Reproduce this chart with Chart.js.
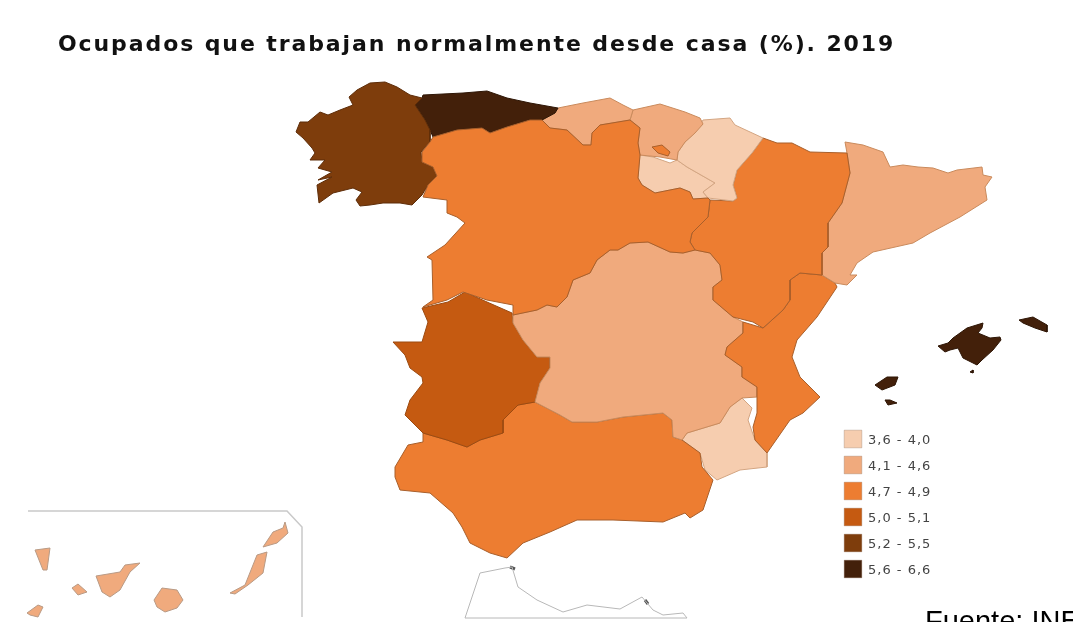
<!DOCTYPE html>
<html>
<head>
<meta charset="utf-8">
<title>Ocupados que trabajan normalmente desde casa</title>
<script src="https://cdn.jsdelivr.net/npm/chart.js@4/dist/chart.umd.min.js"></script>
<style>
  html, body { margin: 0; padding: 0; background: #fff; overflow: hidden; }
  canvas { display: block; filter: blur(0.5px); }
</style>
</head>
<body>
<canvas id="map" width="1073" height="622"></canvas>
<script>
// Texts
const chartTitle = "Ocupados que trabajan normalmente desde casa (%). 2019";
const sourceNote = "Fuente: INE";

// Legend classes
const classRanges = ["3,6 - 4,0", "4,1 - 4,6", "4,7 - 4,9", "5,0 - 5,1", "5,2 - 5,5", "5,6 - 6,6"];
const classColors = ["#f6cdaf", "#f0aa7d", "#ed7d31", "#c55a11", "#7e3d0c", "#43200a"];
const legendX = [853, 853, 853, 853, 853, 853];
const legendY = [439, 465, 491, 517, 543, 569];

// Region outlines
const castillaLeon = [[422,152],[430,142],[433,137],[457,130],[482,128],[490,133],[507,127],[530,120],[542,120],[550,128],[567,130],[583,145],[591,145],[592,133],[600,125],[630,120],[640,128],[638,143],[640,155],[638,178],[642,185],[655,193],[670,190],[680,188],[690,192],[693,199],[708,198],[710,200],[708,217],[692,233],[690,242],[695,250],[683,253],[670,252],[648,242],[630,243],[618,250],[610,250],[597,260],[590,273],[573,280],[567,297],[557,307],[547,305],[537,310],[513,315],[513,305],[487,300],[463,292],[447,300],[423,307],[433,300],[432,260],[427,257],[445,245],[465,223],[457,217],[447,213],[447,200],[423,197],[428,185],[437,176],[433,167],[422,162]];
const galicia = [[296,132],[300,122],[308,122],[320,112],[328,115],[340,110],[353,105],[349,97],[357,90],[370,83],[385,82],[397,87],[410,95],[422,98],[415,105],[425,120],[430,130],[430,142],[421,152],[422,162],[433,167],[437,176],[428,185],[422,195],[412,205],[400,203],[383,203],[370,205],[360,206],[356,200],[362,192],[353,188],[333,193],[319,203],[317,185],[332,177],[318,180],[332,172],[318,168],[325,160],[310,160],[315,153],[312,148],[303,138]];
const asturias = [[422,98],[423,95],[463,93],[487,91],[507,98],[530,103],[558,108],[555,113],[542,120],[530,120],[507,127],[490,133],[482,128],[457,130],[433,137],[430,130],[425,120],[415,105]];
const cantabria = [[558,108],[583,103],[610,98],[623,105],[633,110],[630,120],[600,125],[592,133],[591,145],[583,145],[567,130],[550,128],[542,120],[555,113]];
const paisVasco = [[633,110],[660,104],[685,112],[700,118],[703,124],[695,133],[685,142],[678,152],[677,160],[660,157],[640,155],[638,143],[640,128],[630,120]];
const trevino = [[652,147],[662,145],[670,152],[668,156],[658,153]];
const navarra = [[703,120],[730,118],[735,125],[763,138],[752,153],[737,170],[733,185],[737,198],[733,201],[708,198],[703,192],[715,183],[687,167],[677,160],[678,152],[685,142],[695,133]];
const rioja = [[640,155],[653,157],[670,163],[677,160],[687,167],[715,183],[703,192],[708,198],[693,199],[690,192],[680,188],[670,190],[655,193],[642,185],[638,178]];
const aragon = [[763,138],[777,143],[792,143],[810,152],[847,153],[850,173],[842,203],[828,223],[828,247],[822,253],[822,275],[800,273],[790,280],[790,300],[783,310],[763,328],[753,322],[733,317],[713,300],[713,287],[722,280],[720,265],[710,253],[695,250],[690,242],[692,233],[708,217],[710,200],[733,201],[737,198],[733,185],[737,170],[752,153]];
const cataluna = [[845,142],[863,145],[883,152],[890,167],[903,165],[918,167],[933,168],[948,173],[957,170],[982,167],[983,175],[992,177],[985,187],[987,200],[960,217],[930,233],[913,243],[873,252],[857,263],[850,275],[857,275],[847,285],[835,283],[822,275],[822,253],[828,247],[828,223],[842,203],[850,173],[847,153]];
const valencia = [[837,287],[817,317],[797,340],[792,357],[800,377],[820,397],[803,413],[790,420],[767,453],[755,440],[753,427],[757,413],[757,387],[742,377],[742,367],[725,355],[727,347],[743,333],[743,322],[763,328],[783,310],[790,300],[790,280],[800,273],[822,275],[835,283]];
const castillaMancha = [[630,243],[648,242],[670,252],[683,253],[695,250],[710,253],[720,265],[722,280],[713,287],[713,300],[733,317],[743,322],[743,333],[727,347],[725,355],[742,367],[742,377],[757,387],[757,397],[742,398],[730,407],[720,423],[687,433],[682,440],[673,437],[672,420],[663,413],[623,417],[597,422],[572,422],[560,415],[535,402],[540,383],[550,368],[550,357],[537,357],[523,340],[513,323],[513,315],[537,310],[547,305],[557,307],[567,297],[573,280],[590,273],[597,260],[610,250],[618,250]];
const madrid = [[610,250],[618,257],[620,267],[630,287],[638,315],[613,318],[600,327],[597,325],[607,315],[597,308],[570,305],[557,307],[567,297],[573,280],[590,273],[597,260]];
const extremadura = [[422,308],[448,302],[465,292],[487,302],[512,313],[513,323],[523,340],[537,357],[550,357],[550,368],[540,383],[535,402],[518,405],[503,420],[503,433],[480,440],[467,447],[447,440],[423,433],[405,415],[410,400],[423,383],[422,377],[410,368],[405,355],[393,342],[422,342],[428,322]];
const andalucia = [[395,467],[408,445],[423,442],[423,433],[447,440],[467,447],[480,440],[503,433],[503,420],[518,405],[535,402],[560,415],[572,422],[597,422],[623,417],[663,413],[672,420],[673,437],[682,440],[700,453],[702,467],[713,480],[703,510],[690,518],[685,513],[663,522],[613,520],[577,520],[550,532],[523,543],[507,558],[490,553],[470,543],[462,527],[453,513],[430,493],[400,490],[395,477]];
const murcia = [[742,398],[752,408],[748,420],[755,440],[767,453],[767,467],[740,470],[717,480],[705,470],[700,453],[682,440],[687,433],[720,423],[730,407]];
const mallorca = [[938,346],[948,343],[953,338],[967,328],[983,323],[982,328],[978,333],[990,338],[1000,337],[1001,340],[993,350],[982,360],[977,365],[963,358],[958,348],[950,350],[945,352]];
const menorca = [[1019,320],[1033,317],[1047,325],[1047,332],[1035,328],[1023,323]];
const ibiza = [[875,385],[887,377],[898,377],[895,385],[882,390]];
const formentera = [[885,400],[890,400],[897,403],[888,405]];
const cabrera = [[970,372],[973,370],[973,373]];
const laPalma = [[35,550],[50,548],[47,570],[43,570]];
const hierro = [[27,613],[38,605],[43,607],[38,617],[30,615]];
const gomera = [[72,588],[78,584],[87,592],[78,595]];
const tenerife = [[96,576],[120,572],[125,565],[140,563],[130,572],[120,590],[110,597],[102,592]];
const granCanaria = [[154,600],[162,588],[177,590],[183,600],[177,608],[165,612],[157,607]];
const fuerteventura = [[230,593],[245,585],[257,555],[267,552],[263,573],[248,585],[235,594]];
const lanzarote = [[263,547],[273,532],[283,528],[285,522],[288,533],[277,543]];

// Non data lines
const canaryFrame = [[28,511],[287,511],[302,527],[302,617]];
const africaCoast = [[465,618],[480,573],[505,568],[512,567],[518,587],[537,600],[563,612],[587,605],[620,609],[642,597],[653,610],[663,615],[683,613],[687,618],[465,618]];
const ceuta = [[510,567],[515,569]];
const melilla = [[645,600],[648,604]];

// Which class each region belongs to. Chart.js paints the first dataset last,
// so the Treviño enclave has to come first to stay on top
const regionShapes = [trevino, castillaLeon, galicia, asturias, cantabria, paisVasco, navarra, rioja, aragon, cataluna, valencia, castillaMancha, madrid, extremadura, andalucia, murcia, mallorca, menorca, ibiza, formentera, cabrera, laPalma, hierro, gomera, tenerife, granCanaria, fuerteventura, lanzarote];
const regionClasses = [2, 2, 4, 5, 1, 1, 0, 0, 2, 1, 2, 1, 3, 3, 2, 0, 5, 5, 5, 5, 5, 1, 1, 1, 1, 1, 1, 1];
const regionEdges = ["#a85f2b", "#a85f2b", "#5d2c08", "#2d1505", "#c98a5c", "#c98a5c", "#d3a582", "#d3a582", "#a85f2b", "#c98a5c", "#a85f2b", "#c98a5c", "#9c4a10", "#9c4a10", "#a85f2b", "#d3a582", "#2d1505", "#2d1505", "#2d1505", "#2d1505", "#2d1505", "#b89a85", "#b89a85", "#b89a85", "#b89a85", "#b89a85", "#b89a85", "#b89a85"];

function toPoints(shape) {
  return shape.map((p) => ({ x: p[0], y: p[1] }));
}

// Build datasets: one closed filled line per region
const datasets = regionShapes.map((shape, i) => ({
  data: toPoints(shape),
  showLine: true,
  fill: "shape",
  backgroundColor: classColors[regionClasses[i]],
  borderColor: regionEdges[i],
  borderWidth: 1,
  pointRadius: 0,
  tension: 0,
}));

// Close each outline by repeating the first point
datasets.forEach((d) => d.data.push(d.data[0]));

[canaryFrame, africaCoast].forEach((line, i) => {
  datasets.push({
    data: toPoints(line),
    showLine: true,
    fill: false,
    borderColor: i === 0 ? "#c9c9c9" : "#b8b8b8",
    borderWidth: i === 0 ? 1.5 : 1,
    pointRadius: 0,
    tension: 0,
  });
});

// Ceuta and Melilla are only dark specks on the coast
[ceuta, melilla].forEach((line) => {
  datasets.push({
    data: toPoints(line),
    showLine: true,
    fill: false,
    borderColor: "#555555",
    borderWidth: 3,
    pointRadius: 0,
    tension: 0,
  });
});

// Legend swatches
datasets.push({
  data: legendX.map((x, i) => ({ x: x, y: legendY[i] })),
  showLine: false,
  pointStyle: "rect",
  pointRadius: 12.5,
  pointBackgroundColor: classColors,
  pointBorderColor: "rgba(150,120,100,0.35)",
  pointBorderWidth: 1,
});

// Draws the title, legend labels and source with the chart scales
const textPlugin = {
  id: "mapTexts",
  afterDraw(chart) {
    const ctx = chart.ctx;
    const sx = chart.scales.x;
    const sy = chart.scales.y;
    ctx.save();
    ctx.textBaseline = "alphabetic";

    ctx.fillStyle = "#111";
    ctx.font = "bold 22px 'DejaVu Sans'";
    ctx.letterSpacing = "1.9px";
    ctx.fillText(chartTitle, sx.getPixelForValue(58), sy.getPixelForValue(51));

    ctx.fillStyle = "#444";
    ctx.font = "13px 'DejaVu Sans'";
    ctx.letterSpacing = "1px";
    classRanges.forEach((label, i) => {
      ctx.fillText(label, sx.getPixelForValue(868), sy.getPixelForValue(legendY[i] + 5));
    });

    ctx.fillStyle = "#000";
    ctx.font = "29px 'Liberation Sans'";
    ctx.letterSpacing = "0px";
    ctx.fillText(sourceNote, sx.getPixelForValue(925), sy.getPixelForValue(631));
    ctx.restore();
  },
};

new Chart(document.getElementById("map"), {
  type: "scatter",
  data: { datasets: datasets },
  options: {
    responsive: false,
    animation: false,
    layout: { padding: 0, autoPadding: false },
    plugins: {
      legend: { display: false },
      tooltip: { enabled: false },
    },
    scales: {
      x: { type: "linear", min: 0, max: 1073, display: false },
      y: { type: "linear", min: 0, max: 622, reverse: true, display: false },
    },
  },
  plugins: [textPlugin],
});
</script>
</body>
</html>
